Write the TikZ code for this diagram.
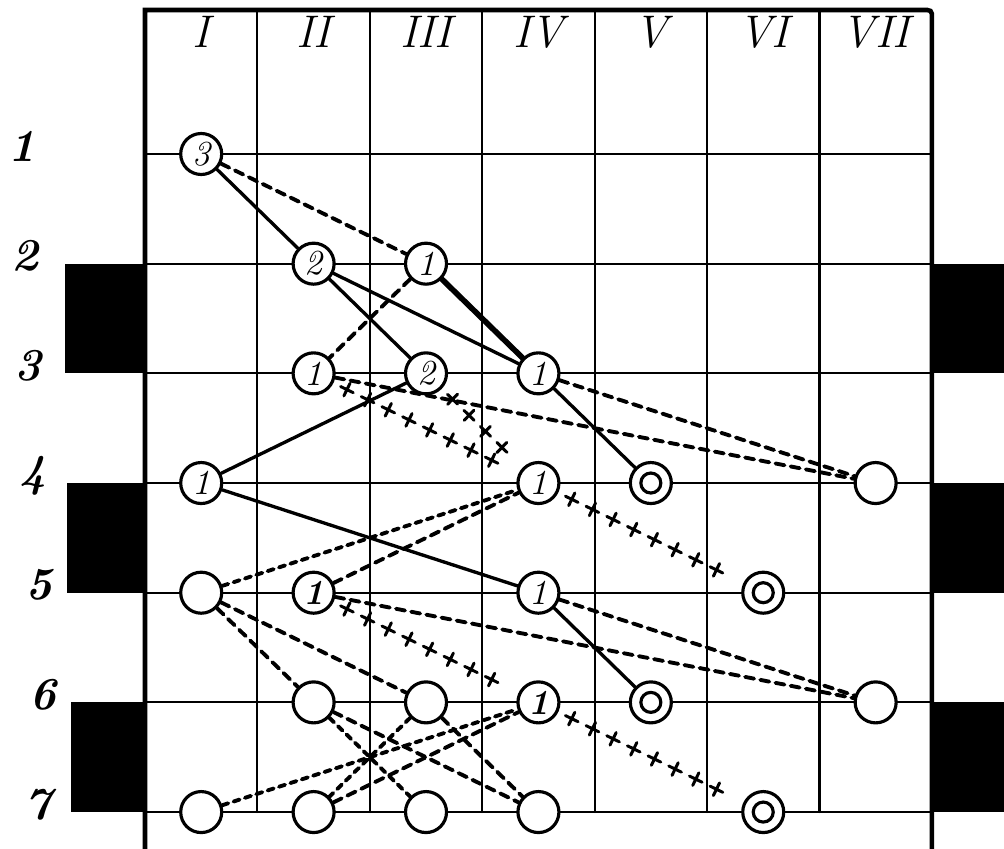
\documentclass[tikz,border=0pt]{standalone}
\usepackage{tikz}
\usetikzlibrary{decorations.markings}

\begin{document}
\begin{tikzpicture}[x=1.124cm,y=-1.0967cm,line cap=round,
  gridline/.style={line width=0.6pt},
  frame/.style={line width=1.3pt},
  stone/.style={circle,draw,line width=0.9pt,fill=white,minimum size=0.41cm,inner sep=0pt,font=\fontsize{10}{10}\selectfont\itshape},
  ring/.style={stone,path picture={\draw[line width=0.9pt] (path picture bounding box.center) circle (0.1cm);}},
  link/.style={line width=0.95pt},
  heavylink/.style={line width=1.6pt},
  dashline/.style={line width=1.1pt,dash pattern=on 2.6pt off 1.8pt},
  dotdash/.style={line width=1.1pt,dash pattern=on 1.8pt off 1.6pt},
  crossline/.style={postaction={decorate},decoration={markings,
    mark=between positions 0.15cm and -0.1cm step 0.23cm with
    {\draw[line width=0.85pt] (-2pt,0pt) -- (2pt,0pt) (0pt,-2pt) -- (0pt,2pt);}}},
  colhead/.style={font=\fontsize{13}{13}\selectfont\itshape},
  rowhead/.style={font=\fontsize{13}{13}\selectfont\bfseries\itshape}]
\useasboundingbox (-1.29,-0.404) rectangle (7.642,7.328);
\fill (-0.71,2) rectangle (0,3);
\fill (-0.69,4) rectangle (0,5);
\fill (-0.66,6) rectangle (0,7);
\fill (7,2) rectangle (7.642,3);
\fill (7,4) rectangle (7.642,5);
\fill (7,6) rectangle (7.642,7);
\foreach \r in {1,...,7} \draw[gridline] (0,\r) -- (7,\r);
\foreach \c in {1,...,6} \draw[gridline] (\c,-0.313) -- (\c,7);
\draw[frame] (0,7.4) -- (0,-0.313) -- (6.96,-0.313) to[out=0,in=90] (7,-0.28) -- (7,7.4);
\foreach \c/\t in {1/I,2/II,3/III,4/IV,5/V,6/VI,7/VII}
  \node[colhead] (h\c) at (\c-0.5,-0.11) {\t};
\foreach \r/\x in {1/-1.09,2/-1.07,3/-1.04,4/-1.0,5/-0.94,6/-0.91,7/-0.95}
  \node[rowhead] (l\r) at (\x,\r-0.07) {\r};
\node[stone] (n11) at (0.5,1) {3};
\node[stone] (n22) at (1.5,2) {2};
\node[stone] (n23) at (2.5,2) {1};
\node[stone] (n32) at (1.5,3) {1};
\node[stone] (n33) at (2.5,3) {2};
\node[stone] (n34) at (3.5,3) {1};
\node[stone] (n41) at (0.5,4) {1};
\node[stone] (n44) at (3.5,4) {1};
\node[ring] (n45) at (4.5,4) {};
\node[stone] (n47) at (6.5,4) {};
\node[stone] (n51) at (0.5,5) {};
\node[stone] (n52) at (1.5,5) {\bfseries 1};
\node[stone] (n54) at (3.5,5) {1};
\node[ring] (n56) at (5.5,5) {};
\node[stone] (n62) at (1.5,6) {};
\node[stone] (n63) at (2.5,6) {};
\node[stone] (n64) at (3.5,6) {\bfseries 1};
\node[ring] (n65) at (4.5,6) {};
\node[stone] (n67) at (6.5,6) {};
\node[stone] (n71) at (0.5,7) {};
\node[stone] (n72) at (1.5,7) {};
\node[stone] (n73) at (2.5,7) {};
\node[stone] (n74) at (3.5,7) {};
\node[ring] (n76) at (5.5,7) {};
\draw[link] (n11) -- (n22);
\draw[link] (n22) -- (n33);
\draw[link] (n22) -- (n34);
\draw[heavylink] (n23) -- (n34);
\draw[link] (n34) -- (n45);
\draw[link] (n41) -- (n33);
\draw[link] (n41) -- (n54);
\draw[link] (n54) -- (n65);
\draw[dashline] (n11) -- (n23);
\draw[dashline] (n23) -- (n32);
\draw[dashline] (n34) -- (n47);
\draw[dashline] (n32) -- (n47);
\draw[dashline] (n52) -- (n44);
\draw[dashline] (n52) -- (n67);
\draw[dashline] (n54) -- (n67);
\draw[dashline] (n51) -- (n62);
\draw[dashline] (n51) -- (n63);
\draw[dashline] (n62) -- (n74);
\draw[dashline] (n63) -- (n74);
\draw[dashline] (n72) -- (n64);
\draw[dotdash] (n51) -- (n44);
\draw[dotdash] (n71) -- (n64);
\draw[dotdash] (n62) -- (n73);
\draw[dotdash] (n63) -- (n72);
\path[crossline] (n32) -- (n44);
\path[crossline] (n33) -- (n44);
\path[crossline] (n44) -- (n56);
\path[crossline] (n52) -- (n64);
\path[crossline] (n64) -- (n76);
\end{tikzpicture}
\end{document}
